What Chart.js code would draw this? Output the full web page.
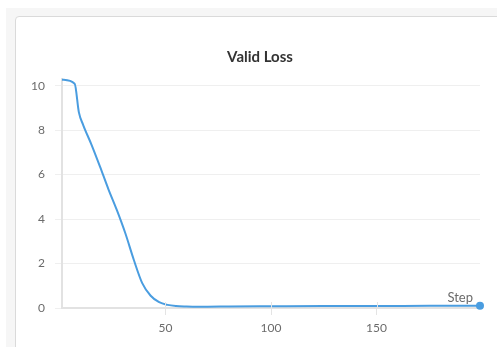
<!DOCTYPE html>
<html>
<head>
<meta charset="utf-8">
<script src="https://cdn.jsdelivr.net/npm/chart.js@4"></script>
<style>
  html, body { margin: 0; padding: 0; background: #fff; overflow: hidden; width: 497px; height: 347px; }
  #bg { position: absolute; left: 6px; top: 8px; right: 0; bottom: 0; background: #f6f6f6; }
  #panel { position: absolute; left: 15px; top: 16px; width: 500px; height: 360px; background: #fff;
           border: 1px solid #dadada; border-radius: 4px; }
  #wrap { position: absolute; left: 0; top: 0; width: 488px; height: 330px; }
</style>
</head>
<body>
<div id="bg"></div>
<div id="panel"><div id="wrap"><canvas id="chart"></canvas></div></div>
<script>
// values
const steps = [1, 7, 9, 11, 15, 19, 23, 27, 31, 35, 39, 43, 47, 51, 55, 60, 65, 70, 80, 100, 125, 150, 175, 199];
const validLoss = [10.27, 10.09, 8.8, 8.24, 7.34, 6.36, 5.34, 4.4, 3.36, 2.17, 1.12, 0.55, 0.26, 0.14, 0.09, 0.07, 0.06, 0.06, 0.07, 0.08, 0.09, 0.09, 0.1, 0.1];
const xTicks = [50, 100, 150];
const yTicks = [0, 2, 4, 6, 8, 10];

document.addEventListener("DOMContentLoaded", function () {
    const lineColor = '#4a9de0';
    const fontFamily = "Lato, 'Open Sans', sans-serif";

    // title, "Step" label and the small upper halves of the x tick marks
    const extras = {
        id: 'extras',
        afterDraw(chart) {
            const c = chart.ctx;
            const area = chart.chartArea;
            const xs = chart.scales.x;
            c.save();
            c.strokeStyle = '#e4e4e4';
            c.lineWidth = 1;
            xTicks.forEach(v => {
                const px = Math.round(xs.getPixelForValue(v)) + 0.5;
                c.beginPath();
                c.moveTo(px, area.bottom - 6);
                c.lineTo(px, area.bottom);
                c.stroke();
            });
            c.fillStyle = '#6b6b6b';
            c.font = '13px ' + fontFamily;
            c.textAlign = 'right';
            c.textBaseline = 'alphabetic';
            c.fillText('Step', area.right - 7, area.bottom - 6);

            c.fillStyle = '#333';
            c.font = 'bold 15px ' + fontFamily;
            c.textAlign = 'center';
            c.textBaseline = 'middle';
            c.fillText('Valid Loss', chart.width / 2, 40);
            c.restore();
        }
    };

    const ctx = document.getElementById('chart').getContext('2d');
    new Chart(ctx, {
        type: 'line',
        data: {
            datasets: [{
                label: 'Valid Loss',
                data: steps.map((s, i) => ({ x: s, y: validLoss[i] })),
                borderColor: lineColor,
                backgroundColor: lineColor,
                borderWidth: 2,
                cubicInterpolationMode: 'monotone',
                pointRadius: c => c.dataIndex === steps.length - 1 ? 3 : 0,
                pointHoverRadius: 0,
                clip: false
            }]
        },
        plugins: [extras],
        options: {
            responsive: true,
            maintainAspectRatio: false,
            animation: false,
            layout: { padding: { left: 0, right: 24, top: 62, bottom: 0 } },
            plugins: {
                legend: { display: false },
                tooltip: { enabled: false },
                title: { display: false }
            },
            scales: {
                x: {
                    type: 'linear',
                    min: 1,
                    max: 199,
                    afterBuildTicks: s => { s.ticks = xTicks.map(v => ({ value: v })); },
                    afterFit: s => { s.height = 39; },
                    grid: { drawOnChartArea: false, color: '#e4e4e4', tickLength: 7 },
                    border: { color: '#e2e2e2', width: 2 },
                    ticks: { color: '#6b6b6b', font: { family: fontFamily, size: 12 }, padding: 6, maxRotation: 0 }
                },
                y: {
                    min: 0,
                    max: 10.3,
                    afterBuildTicks: s => { s.ticks = yTicks.map(v => ({ value: v })); },
                    afterFit: s => { s.width = 46; },
                    grid: { color: '#efefef', tickLength: 7 },
                    border: { color: '#e2e2e2', width: 2 },
                    ticks: { color: '#6b6b6b', font: { family: fontFamily, size: 12 }, padding: 10 }
                }
            }
        }
    });
});
</script>
</body>
</html>
